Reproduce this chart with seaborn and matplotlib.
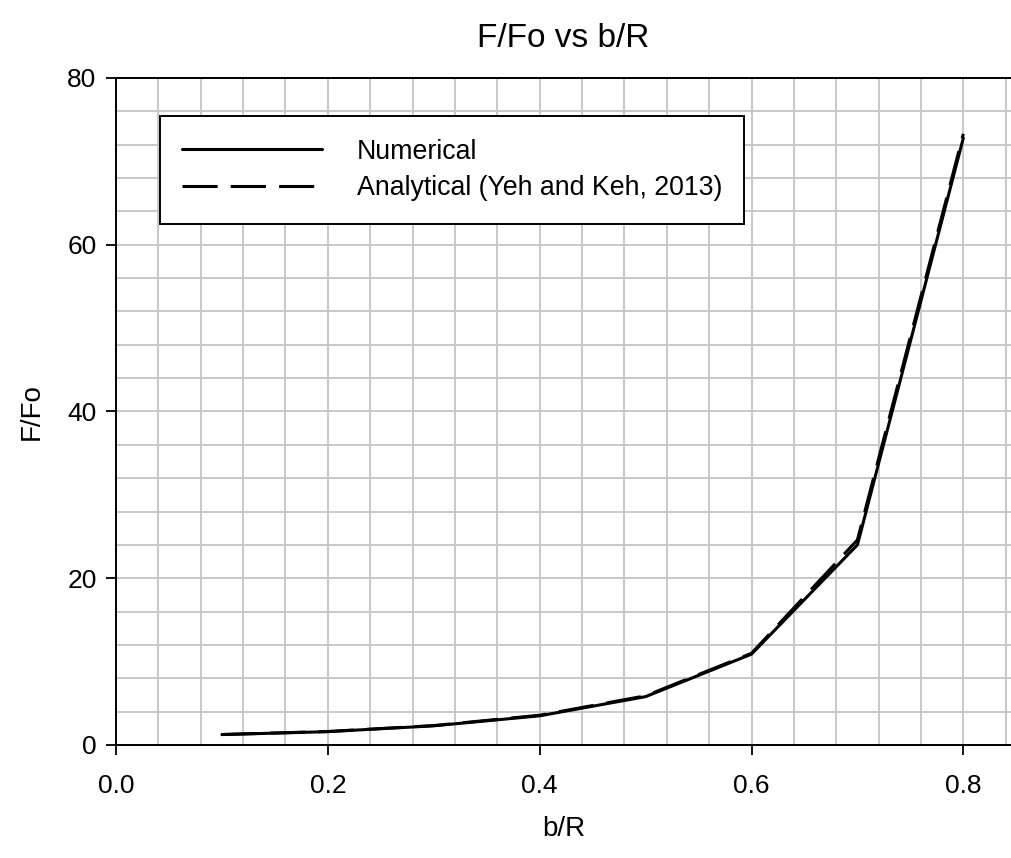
import numpy as np
import pandas as pd
import matplotlib
matplotlib.use("Agg")
import matplotlib.pyplot as plt
from matplotlib.ticker import MultipleLocator
import seaborn as sns

# Data
b_over_R = [0.1, 0.2, 0.3, 0.4, 0.5, 0.6, 0.7, 0.8]
numerical = [1.25, 1.6, 2.3, 3.5, 5.8, 10.9, 24.0, 72.8]
analytical = [1.26, 1.62, 2.33, 3.57, 5.9, 11.0, 24.6, 73.3]
series_names = ["Numerical", "Analytical (Yeh and Keh, 2013)"]

sns.set_style("white")
plt.rcParams["font.family"] = ["Liberation Sans", "DejaVu Sans"]
plt.rcParams["text.color"] = "black"
plt.rcParams["axes.labelcolor"] = "black"

fig = plt.figure(figsize=(10.11, 8.58), dpi=100)
ax = fig.add_axes([116 / 1011, 1 - 745 / 858, 1 - 116 / 1011, (745 - 78) / 858])

ax.set_xlim(0, 0.845)
ax.set_ylim(0, 80)
ax.xaxis.set_major_locator(MultipleLocator(0.2))
ax.xaxis.set_minor_locator(MultipleLocator(0.04))
ax.yaxis.set_major_locator(MultipleLocator(20))
ax.yaxis.set_minor_locator(MultipleLocator(4))
ax.grid(which="both", color="#c8c8c8", linewidth=1.4)
ax.set_axisbelow(True)

sns.lineplot(x=b_over_R, y=numerical, ax=ax, color="black", linewidth=2.2,
             label=series_names[0])
sns.lineplot(x=b_over_R, y=analytical, ax=ax, color="black", linewidth=2.2,
             label=series_names[1])
ax.lines[1].set_dashes([11.5, 4.3])

ax.xaxis.set_major_formatter(matplotlib.ticker.FormatStrFormatter("%.1f"))
ax.tick_params(which="major", direction="out", length=7, width=1.3, colors="black",
               labelsize=19, bottom=True, left=True)
ax.tick_params(axis="x", which="major", pad=14)
ax.tick_params(axis="y", which="major", pad=7)
ax.tick_params(which="minor", length=0)
for s in ["left", "bottom", "top"]:
    ax.spines[s].set_color("black")
    ax.spines[s].set_linewidth(1.4)
ax.spines["right"].set_visible(False)

ax.set_xlabel("b/R", fontsize=20, labelpad=13)
ax.set_ylabel("F/Fo", fontsize=20, labelpad=16)
ax.set_title("F/Fo vs b/R", fontsize=24, pad=22)

leg = ax.legend(loc="upper left", bbox_to_anchor=(0.049, 0.943), borderaxespad=0,
                fontsize=19.3, handlelength=5.2, handletextpad=1.3, labelspacing=0.4,
                borderpad=0.84, fancybox=False, framealpha=1, edgecolor="black")
leg.get_frame().set_linewidth(1.4)
leg.legend_handles[1].set_dashes([11.5, 4.3])

fig.savefig("out.png", dpi=100)
